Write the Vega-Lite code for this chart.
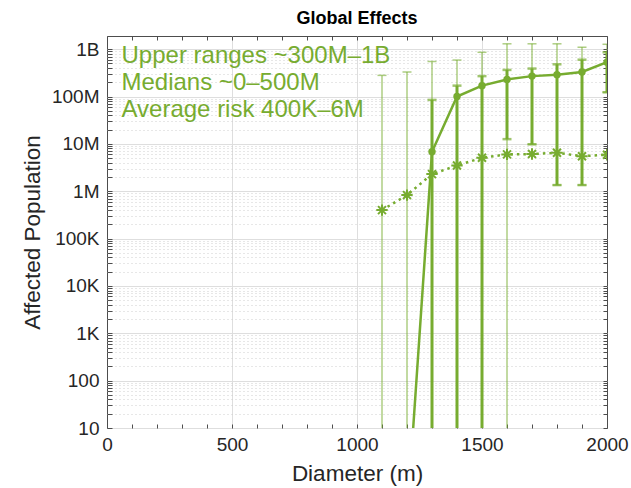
{
  "$schema": "https://vega.github.io/schema/vega-lite/v6.json",
  "width": 500,
  "height": 392,
  "autosize": "none",
  "padding": {"left": 107, "top": 36, "right": 24, "bottom": 60},
  "background": "white",
  "title": {"text": "Global Effects", "fontSize": 18, "fontWeight": "bold", "font": "Liberation Sans", "color": "#000000", "offset": 8, "anchor": "middle"},
  "config": {
    "view": {"stroke": "#4d4d4d", "strokeWidth": 1},
    "font": "Liberation Sans"
  },
  "data": {
    "values": [
      {"diameter": 1100, "median": null, "med_lo": null, "med_hi": null, "avg": 400000, "rng_lo": 1, "rng_hi": 280000000},
      {"diameter": 1200, "median": 0.12, "med_lo": null, "med_hi": null, "avg": 830000, "rng_lo": 1, "rng_hi": 330000000},
      {"diameter": 1300, "median": 6800000, "med_lo": 1, "med_hi": 85000000, "avg": 2300000, "rng_lo": 1, "rng_hi": 550000000},
      {"diameter": 1400, "median": 100000000, "med_lo": 1, "med_hi": 170000000, "avg": 3500000, "rng_lo": 1, "rng_hi": 590000000},
      {"diameter": 1500, "median": 170000000, "med_lo": 1, "med_hi": 270000000, "avg": 5100000, "rng_lo": 1, "rng_hi": 860000000},
      {"diameter": 1600, "median": 230000000, "med_lo": 12600000, "med_hi": 365000000, "avg": 6000000, "rng_lo": 1, "rng_hi": 1300000000},
      {"diameter": 1700, "median": 270000000, "med_lo": 9800000, "med_hi": 390000000, "avg": 6100000, "rng_lo": 9800000, "rng_hi": 1300000000},
      {"diameter": 1800, "median": 290000000, "med_lo": 1350000, "med_hi": 480000000, "avg": 6500000, "rng_lo": 1350000, "rng_hi": 1300000000},
      {"diameter": 1900, "median": 330000000, "med_lo": 1350000, "med_hi": 600000000, "avg": 5500000, "rng_lo": 1350000, "rng_hi": 1100000000},
      {"diameter": 2000, "median": 530000000, "med_lo": 123000000, "med_hi": 860000000, "avg": 5900000, "rng_lo": 123000000, "rng_hi": 1270000000}
    ]
  },
  "resolve": {"axis": {"x": "independent", "y": "independent"}},
  "layer": [
    {
      "mark": {"type": "rule", "color": "#77AC30", "opacity": 0.6, "strokeWidth": 1.5, "clip": true},
      "encoding": {
        "x": {"field": "diameter", "type": "quantitative", "scale": {"domain": [0, 2000], "nice": false, "zero": false},
          "axis": {"orient": "bottom", "values": [0,100,200,300,400,500,600,700,800,900,1000,1100,1200,1300,1400,1500,1600,1700,1800,1900,2000],
            "labelExpr": "datum.value % 500 == 0 ? '' + datum.value : ''",
            "labelFlush": false, "labelFontSize": 19, "labelColor": "#262626", "labelPadding": 11,
            "domain": false, "tickColor": "#4d4d4d", "tickSize": -4,
            "grid": true, "gridColor": "#dedede",
            "gridOpacity": {"condition": {"test": "datum.value % 500 == 0 && datum.value > 0 && datum.value < 2000", "value": 1}, "value": 0},
            "title": "Diameter (m)", "titleFontSize": 22.5, "titleFontWeight": "normal", "titleColor": "#262626", "titlePadding": 8}},
        "y": {"field": "rng_lo", "type": "quantitative", "scale": {"type": "log", "domain": [10, 1900000000], "nice": false},
          "axis": {"orient": "left",
            "values": [10,20,30,40,50,60,70,80,90,100,200,300,400,500,600,700,800,900,1000,2000,3000,4000,5000,6000,7000,8000,9000,10000,20000,30000,40000,50000,60000,70000,80000,90000,100000,200000,300000,400000,500000,600000,700000,800000,900000,1000000,2000000,3000000,4000000,5000000,6000000,7000000,8000000,9000000,10000000,20000000,30000000,40000000,50000000,60000000,70000000,80000000,90000000,100000000,200000000,300000000,400000000,500000000,600000000,700000000,800000000,900000000,1000000000],
            "labelExpr": "datum.value == 10 ? '10' : datum.value == 100 ? '100' : datum.value == 1000 ? '1K' : datum.value == 10000 ? '10K' : datum.value == 100000 ? '100K' : datum.value == 1000000 ? '1M' : datum.value == 10000000 ? '10M' : datum.value == 100000000 ? '100M' : datum.value == 1000000000 ? '1B' : ''",
            "labelFlush": false, "labelFontSize": 19, "labelColor": "#262626", "labelPadding": 13,
            "domain": false, "tickColor": "#4d4d4d", "tickSize": -5,
            "grid": true,
            "gridColor": {"condition": {"test": "indexof([10,100,1000,10000,100000,1000000,10000000,100000000,1000000000], datum.value) >= 0", "value": "#dedede"}, "value": "#cfcfcf"},
            "gridDash": {"condition": {"test": "indexof([10,100,1000,10000,100000,1000000,10000000,100000000,1000000000], datum.value) >= 0", "value": []}, "value": [1, 3]},
            "title": "Affected Population", "titleFontSize": 22.5, "titleFontWeight": "normal", "titleColor": "#262626", "titlePadding": 7}},
        "y2": {"field": "rng_hi"}
      }
    },
    {
      "mark": {"type": "tick", "orient": "horizontal", "color": "#77AC30", "opacity": 0.6, "size": 9, "thickness": 1.5, "clip": true},
      "encoding": {
        "x": {"field": "diameter", "type": "quantitative",
          "axis": {"orient": "top", "values": [0,100,200,300,400,500,600,700,800,900,1000,1100,1200,1300,1400,1500,1600,1700,1800,1900,2000], "labels": false, "grid": false, "domain": false, "tickColor": "#4d4d4d", "tickSize": -4, "title": null}},
        "y": {"field": "rng_hi", "type": "quantitative",
          "axis": {"orient": "right", "values": [10,20,30,40,50,60,70,80,90,100,200,300,400,500,600,700,800,900,1000,2000,3000,4000,5000,6000,7000,8000,9000,10000,20000,30000,40000,50000,60000,70000,80000,90000,100000,200000,300000,400000,500000,600000,700000,800000,900000,1000000,2000000,3000000,4000000,5000000,6000000,7000000,8000000,9000000,10000000,20000000,30000000,40000000,50000000,60000000,70000000,80000000,90000000,100000000,200000000,300000000,400000000,500000000,600000000,700000000,800000000,900000000,1000000000], "labels": false, "grid": false, "domain": false, "tickColor": "#4d4d4d", "tickSize": -4, "title": null}}
      }
    },
    {
      "mark": {"type": "tick", "orient": "horizontal", "color": "#77AC30", "opacity": 0.6, "size": 9, "thickness": 1.5, "clip": true},
      "encoding": {
        "x": {"field": "diameter", "type": "quantitative", "axis": null},
        "y": {"field": "rng_lo", "type": "quantitative", "axis": null}
      }
    },
    {
      "mark": {"type": "rule", "color": "#77AC30", "strokeWidth": 3, "clip": true},
      "encoding": {
        "x": {"field": "diameter", "type": "quantitative", "axis": null},
        "y": {"field": "med_lo", "type": "quantitative", "axis": null},
        "y2": {"field": "med_hi"}
      }
    },
    {
      "mark": {"type": "tick", "orient": "horizontal", "color": "#77AC30", "size": 9, "thickness": 2.5, "clip": true},
      "encoding": {
        "x": {"field": "diameter", "type": "quantitative", "axis": null},
        "y": {"field": "med_hi", "type": "quantitative", "axis": null}
      }
    },
    {
      "mark": {"type": "tick", "orient": "horizontal", "color": "#77AC30", "size": 9, "thickness": 2.5, "clip": true},
      "encoding": {
        "x": {"field": "diameter", "type": "quantitative", "axis": null},
        "y": {"field": "med_lo", "type": "quantitative", "axis": null}
      }
    },
    {
      "mark": {"type": "line", "color": "#77AC30", "strokeWidth": 2.5, "clip": true, "point": {"filled": true, "size": 55, "color": "#77AC30"}},
      "encoding": {
        "x": {"field": "diameter", "type": "quantitative", "axis": null},
        "y": {"field": "median", "type": "quantitative", "axis": null}
      }
    },
    {
      "mark": {"type": "line", "color": "#77AC30", "strokeWidth": 2.5, "strokeDash": [2.5, 4], "clip": true},
      "encoding": {
        "x": {"field": "diameter", "type": "quantitative", "axis": null},
        "y": {"field": "avg", "type": "quantitative", "axis": null}
      }
    },
    {
      "mark": {"type": "point", "shape": "M-1,0L1,0M0,-1L0,1M-0.7,-0.7L0.7,0.7M-0.7,0.7L0.7,-0.7", "filled": false, "stroke": "#77AC30", "strokeWidth": 2, "size": 130, "opacity": 1, "clip": true},
      "encoding": {
        "x": {"field": "diameter", "type": "quantitative", "axis": null},
        "y": {"field": "avg", "type": "quantitative", "axis": null}
      }
    },
    {
      "data": {"values": [{}]},
      "mark": {"type": "text", "align": "left", "baseline": "alphabetic", "fontSize": 24, "lineHeight": 27, "color": "#77AC30", "font": "Liberation Sans"},
      "encoding": {
        "x": {"datum": 58, "type": "quantitative", "axis": null},
        "y": {"datum": 506000000, "type": "quantitative", "axis": null},
        "text": {"value": ["Upper ranges ~300M–1B", "Medians ~0–500M", "Average risk 400K–6M"]}
      }
    }
  ]
}
